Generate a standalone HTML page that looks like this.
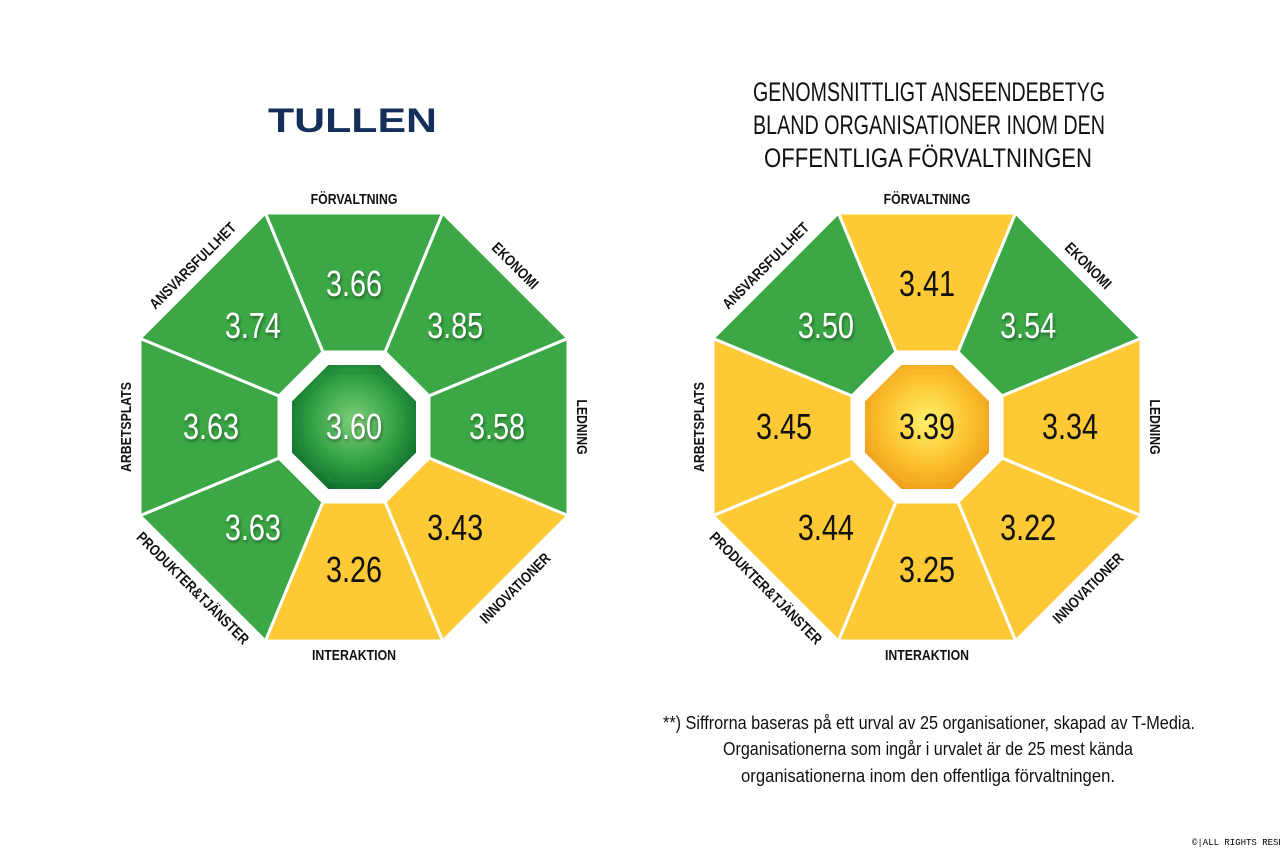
<!DOCTYPE html>
<html><head><meta charset="utf-8">
<style>
html,body{margin:0;padding:0;background:#fff;}
body{width:1280px;height:852px;overflow:hidden;position:relative;font-family:"Liberation Sans Narrow","Liberation Sans",sans-serif;}
</style></head>
<body>
<svg id="chart" width="1280" height="852" viewBox="0 0 1280 852">
<defs>
<radialGradient id="gGreen" cx="50%" cy="45%" r="60%">
<stop offset="0" stop-color="#7fd07a"/><stop offset="0.6" stop-color="#2f9e42"/><stop offset="1" stop-color="#0b6a2a"/>
</radialGradient>
<radialGradient id="gYellow" cx="50%" cy="45%" r="60%">
<stop offset="0" stop-color="#fff16a"/><stop offset="0.6" stop-color="#fbc02d"/><stop offset="1" stop-color="#ef9a1a"/>
</radialGradient>
<filter id="sh" x="-20%" y="-20%" width="140%" height="140%"><feDropShadow dx="1" dy="2" stdDeviation="1.5" flood-color="#000" flood-opacity="0.45"/></filter>
</defs>
<text x="268" y="132" textLength="169" lengthAdjust="spacingAndGlyphs" font-family="Liberation Sans, sans-serif" font-weight="bold" font-size="34" fill="#14305a">TULLEN</text>
<g font-size="27" fill="#111">
<text x="753" y="101" textLength="352" lengthAdjust="spacingAndGlyphs">GENOMSNITTLIGT ANSEENDEBETYG</text>
<text x="753" y="134" textLength="352" lengthAdjust="spacingAndGlyphs">BLAND ORGANISATIONER INOM DEN</text>
<text x="764" y="167" textLength="328" lengthAdjust="spacingAndGlyphs">OFFENTLIGA FÖRVALTNINGEN</text>
</g>
<g font-size="18" fill="#111">
<text x="663" y="729" textLength="532" lengthAdjust="spacingAndGlyphs">**) Siffrorna baseras på ett urval av 25 organisationer, skapad av T-Media.</text>
<text x="723" y="755" textLength="410" lengthAdjust="spacingAndGlyphs">Organisationerna som ingår i urvalet är de 25 mest kända</text>
<text x="741" y="782" textLength="374" lengthAdjust="spacingAndGlyphs">organisationerna inom den offentliga förvaltningen.</text>
</g>
<text x="1192" y="845" font-family="Liberation Mono, monospace" font-size="9" fill="#000">©|ALL RIGHTS RESERVED</text>
</svg>
<script>
const categories = ["FÖRVALTNING","EKONOMI","LEDNING","INNOVATIONER","INTERAKTION","PRODUKTER&TJÄNSTER","ARBETSPLATS","ANSVARSFULLHET"];
const tullenValues = [3.66,3.85,3.58,3.43,3.26,3.63,3.63,3.74];
const tullenCenter = 3.60;
const avgValues = [3.41,3.54,3.34,3.22,3.25,3.44,3.45,3.50];
const avgCenter = 3.39;
const threshold = 3.5;

const svg = document.getElementById('chart');
const NS = 'http://www.w3.org/2000/svg';
function mk(tag, attrs){const e=document.createElementNS(NS,tag);for(const k in attrs)e.setAttribute(k,attrs[k]);return e;}
function condense(el,f){const w=el.getComputedTextLength();el.setAttribute('textLength',w*f);el.setAttribute('lengthAdjust','spacingAndGlyphs');}
const C22 = Math.cos(Math.PI/8);
function vert(cx,cy,apo,k){const R=apo/C22;const a=(-90-22.5+45*k)*Math.PI/180;return [cx+R*Math.cos(a),cy+R*Math.sin(a)];}
function octPts(cx,cy,apo){let p=[];for(let k=0;k<8;k++)p.push(vert(cx,cy,apo,k).join(','));return p.join(' ');}

function drawOct(cx,cy,values,center,prefix){
  const g=mk('g',{});
  
  
  svg.appendChild(g);
  const outer=214, inner=75, gem=62;
  values.forEach((v,i)=>{
    const a=vert(cx,cy,outer,i), b=vert(cx,cy,outer,i+1), c=vert(cx,cy,inner,i+1), d=vert(cx,cy,inner,i);
    const green=v>=threshold;
    const seg=mk('polygon',{points:[a,b,c,d].map(p=>p.join(',')).join(' '),fill:green?'#3ba845':'#fdc934',stroke:'#fff','stroke-width':3,'stroke-linejoin':'miter'});
    
    
    g.appendChild(seg);
    const ang=(-90+45*i)*Math.PI/180;
    const r=143;
    const t=mk('text',{x:cx+r*Math.cos(ang),y:cy+r*Math.sin(ang)+12,'text-anchor':'middle','font-size':36,fill:green?'#fff':'#111'});
    if(green)t.setAttribute('filter','url(#sh)');
    t.textContent=v.toFixed(2);
    
    
    g.appendChild(t);
    condense(t,0.8);
    const lr=228;
    const lx=cx+lr*Math.cos(ang), ly=cy+lr*Math.sin(ang);
    let rot=45*i; if(rot>90&&rot<270)rot-=180; if(rot>=270)rot-=360;
    const l=mk('text',{x:lx,y:ly+5,'text-anchor':'middle','font-size':15,'font-weight':'bold',fill:'#111',transform:`rotate(${rot} ${lx} ${ly})`});
    l.textContent=categories[i];
    
    
    g.appendChild(l);
    condense(l,0.82);
  });
  const cg=center>=threshold;
  const gemEl=mk('polygon',{points:octPts(cx,cy,gem),fill:cg?'url(#gGreen)':'url(#gYellow)'});
  
  
  g.appendChild(gemEl);
  const ring=mk('polygon',{points:octPts(cx,cy,gem-8),fill:'none',stroke:cg?'#1f8a3a':'#f3b526','stroke-width':2,opacity:0.6});
  
  
  g.appendChild(ring);
  const ct=mk('text',{x:cx,y:cy+12,'text-anchor':'middle','font-size':36,fill:cg?'#fff':'#111'});
  if(cg)ct.setAttribute('filter','url(#sh)');
  ct.textContent=center.toFixed(2);
  
  
  g.appendChild(ct);
  condense(ct,0.8);
}
drawOct(354,427,tullenValues,tullenCenter,'tullen');
drawOct(927,427,avgValues,avgCenter,'average');
</script>
</body></html>
